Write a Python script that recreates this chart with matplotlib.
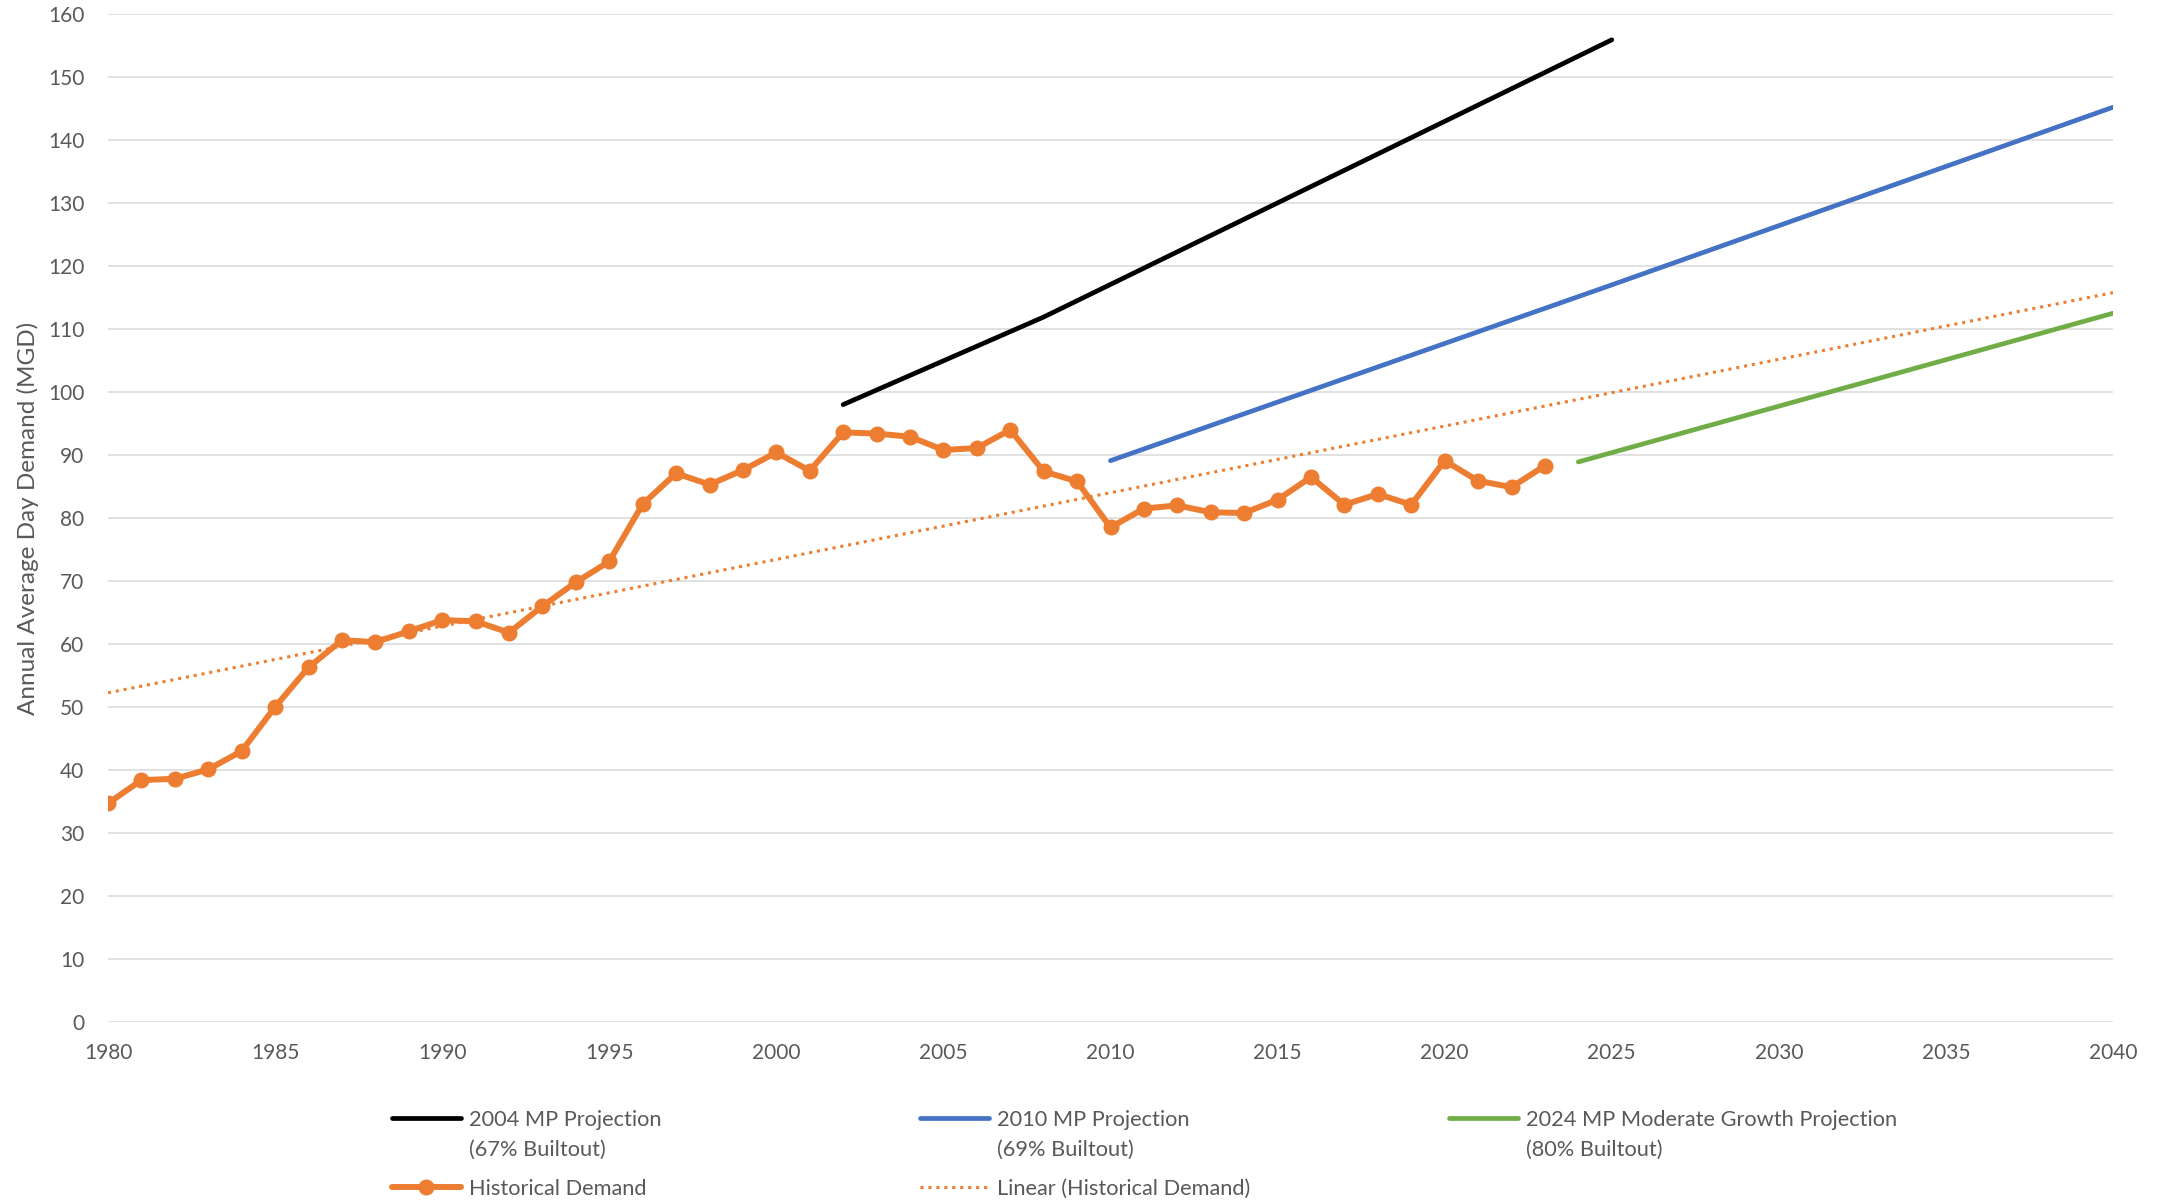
import numpy as np
import matplotlib.pyplot as plt
from matplotlib.lines import Line2D

# Historical annual average day demand (MGD)
hist_years = list(range(1980, 2024))
hist_demand = [34.7, 38.4, 38.6, 40.1, 43.0, 50.0, 56.3, 60.6, 60.3, 62.0,
               63.8, 63.6, 61.8, 66.0, 69.8, 73.1, 82.2, 87.1, 85.3, 87.6,
               90.4, 87.5, 93.6, 93.4, 92.9, 90.8, 91.1, 94.0, 87.4, 85.8,
               78.5, 81.5, 82.0, 80.9, 80.8, 82.9, 86.5, 82.1, 83.8, 82.1,
               89.1, 85.9, 84.9, 88.3]

# Master plan projections
mp2004_years = [2002, 2008, 2025]
mp2004_demand = [98.0, 111.9, 155.9]
mp2010_years = [2010, 2025, 2040]
mp2010_demand = [89.1, 117.0, 145.2]
mp2024_years = [2024, 2040]
mp2024_demand = [88.9, 112.5]

trend_years = [1980, 2040]

plt.rcParams['font.family'] = ['Lato', 'DejaVu Sans']
text_col = '#595959'

fig = plt.figure(figsize=(21.7, 12), dpi=100)
ax = fig.add_axes([108 / 2170, 1 - 1022 / 1200, 2005 / 2170, 1008 / 1200])

# projections
l04, = ax.plot(mp2004_years, mp2004_demand, color='black', lw=3.4,
               solid_capstyle='round', zorder=3)
l10, = ax.plot(mp2010_years, mp2010_demand, color='#4472C4', lw=3.4,
               solid_capstyle='round', zorder=3)
l24, = ax.plot(mp2024_years, mp2024_demand, color='#70AD47', lw=3.4,
               solid_capstyle='round', zorder=3)

# historical demand
lh, = ax.plot(hist_years, hist_demand, color='#ED7D31', lw=4.3,
              marker='o', markersize=10.5, solid_capstyle='round', zorder=4)

# linear trendline of historical data
coef = np.polyfit(hist_years, hist_demand, 1)
lt, = ax.plot(trend_years, np.polyval(coef, trend_years), color='#ED7D31',
              lw=2.2, linestyle=(0, (1, 1.6)), zorder=5)

ax.set_xlim(1980, 2040)
ax.set_ylim(0, 160)
ax.set_xticks(range(1980, 2041, 5))
ax.set_yticks(range(0, 161, 10))
ax.grid(axis='y', color='#d9d9d9', lw=1.1)
ax.set_axisbelow(True)
for s in ax.spines.values():
    s.set_visible(False)
ax.tick_params(length=0, labelsize=15, labelcolor=text_col)
ax.tick_params(axis='y', pad=17)
ax.tick_params(axis='x', pad=15)
ax.set_ylabel('Annual Average Day Demand (MGD)', fontsize=17.5, color=text_col)
ax.yaxis.set_label_coords(-0.0344, 0.5)

blank = Line2D([], [], color='none')
leg_kw = dict(loc='upper left', frameon=False, fontsize=15.7, borderpad=0,
              borderaxespad=0, handlelength=3.15, handletextpad=0.4,
              labelspacing=0.45, labelcolor=text_col)
top_rows = [
    (392, l04, ['2004 MP Projection', '(67% Builtout)']),
    (920, l10, ['2010 MP Projection', '(69% Builtout)']),
    (1449, l24, ['2024 MP Moderate Growth Projection', '(80% Builtout)']),
]
for x, h, labels in top_rows:
    fig.legend([h, blank], labels, bbox_to_anchor=(x / 2170, 1 - 1110 / 1200), **leg_kw)

bottom_row = [(392, lh, 'Historical Demand'), (920, lt, 'Linear (Historical Demand)')]
for x, h, label in bottom_row:
    fig.legend([h], [label], bbox_to_anchor=(x / 2170, 1 - 1179 / 1200), **leg_kw)

fig.savefig('out.png', dpi=100)
